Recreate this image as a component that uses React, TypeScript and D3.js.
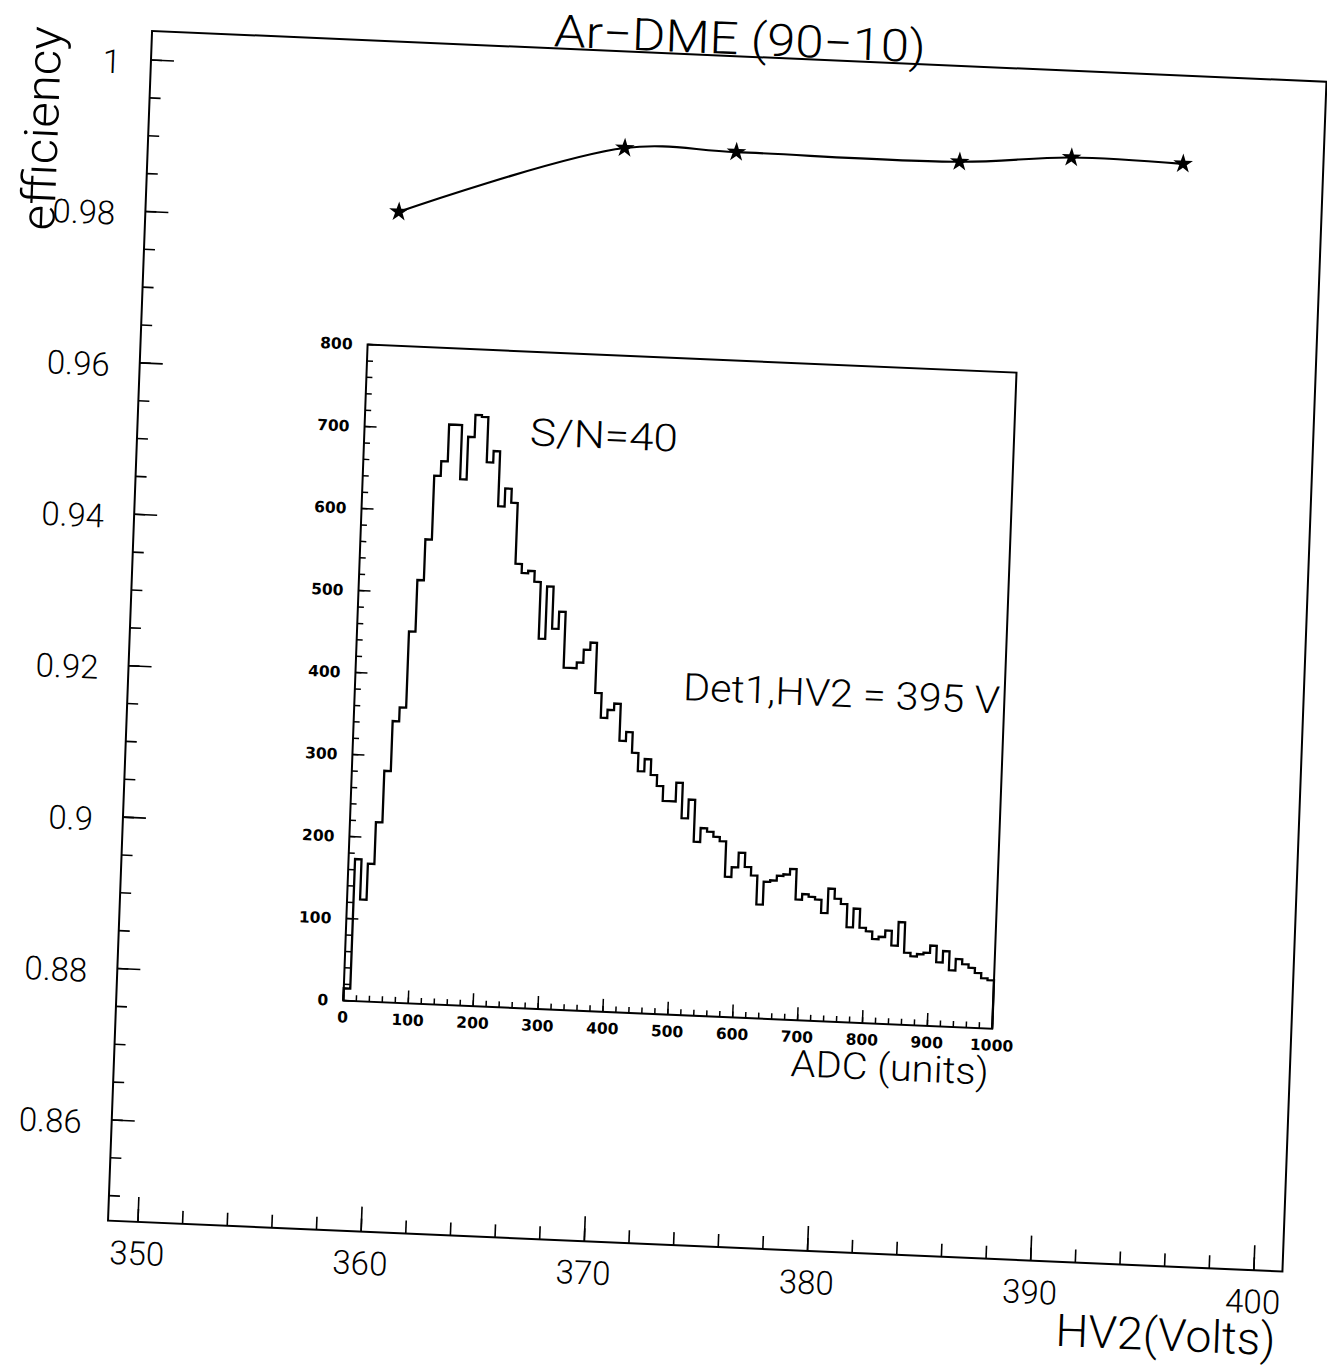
import React from 'react';
import * as d3 from 'd3';

// ---------- data ----------
const hvVolts = [360, 370, 375, 385, 390, 395];
const efficiency = [0.9814, 0.9911, 0.9912, 0.9912, 0.9924, 0.9922];
const hvDomain = [348.66, 401.28];
const effDomain = [0.8467, 1.00384];
const hvTicks = [350, 360, 370, 380, 390, 400];
const effTicks = [0.86, 0.88, 0.9, 0.92, 0.94, 0.96, 0.98, 1];
const effTickLabels = ['0.86', '0.88', '0.9', '0.92', '0.94', '0.96', '0.98', '1'];

const adcDomain = [0, 1000];
const countDomain = [0, 800];
const adcBinWidth = 10;
const adcCounts = [
  15, 173, 124, 168, 219, 282, 343, 360, 453, 516,
  566, 644, 662, 707, 707, 641, 693, 720, 718, 663,
  677, 610, 632, 615, 541, 530, 533, 520, 451, 515,
  464, 485, 417, 417, 424, 440, 449, 388, 358, 368,
  376, 331, 342, 317, 295, 310, 291, 278, 260, 260,
  283, 240, 263, 212, 229, 225, 219, 214, 171, 183,
  201, 184, 174, 139, 167, 169, 175, 177, 184, 147,
  154, 151, 148, 132, 162, 150, 144, 116, 139, 116,
  112, 103, 106, 114, 96, 125, 88, 84, 87, 89,
  98, 78, 92, 69, 83, 77, 73, 67, 61, 59,
];
const adcTicks = [0, 100, 200, 300, 400, 500, 600, 700, 800, 900, 1000];
const countTicks = [0, 100, 200, 300, 400, 500, 600, 700, 800];

const titleText = 'Ar\u2212DME (90\u221210)';
const yTitle = 'efficiency';
const xTitle = 'HV2(Volts)';
const insetXTitle = 'ADC (units)';
const noteSN = 'S/N=40';
const noteDet = 'Det1,HV2 = 395 V';

export default function App() {
  const W = 1327, H = 1370;
  const frame = { l: 129.5, r: 1305, t: 56, b: 1246.5 };
  const inset = { l: 356.5, r: 1006, t: 360, b: 1016.5 };

  // scan distortion: rotation with slight skew about the centre
  const cx = 718, cy = 651;
  const aA = (2.48 * Math.PI) / 180, aB = (2.12 * Math.PI) / 180;
  const ma = Math.cos(aA), mb = Math.sin(aA), mc = -Math.sin(aB), md = Math.cos(aB);
  const me = cx - (ma * cx + mc * cy), mf = cy - (mb * cx + md * cy);
  const tf = `matrix(${ma} ${mb} ${mc} ${md} ${me} ${mf})`;

  const x = d3.scaleLinear().domain(hvDomain).range([frame.l, frame.r]);
  const y = d3.scaleLinear().domain(effDomain).range([frame.b, frame.t]);
  const xi = d3.scaleLinear().domain(adcDomain).range([inset.l, inset.r]);
  const yi = d3.scaleLinear().domain(countDomain).range([inset.b, inset.t]);

  const pts: [number, number][] = hvVolts.map((v, i) => [x(v), y(efficiency[i])]);
  const curve = d3.line().curve(d3.curveCatmullRom.alpha(0.5))(pts) || '';
  const star = d3.symbol().type(d3.symbolStar).size(120)() || '';

  const hp = d3.path();
  hp.moveTo(xi(0), yi(0));
  adcCounts.forEach((c, i) => {
    hp.lineTo(xi(i * adcBinWidth), yi(c));
    hp.lineTo(xi((i + 1) * adcBinWidth), yi(c));
  });
  hp.lineTo(xi(adcCounts.length * adcBinWidth), yi(0));

  const effMinor = d3.range(170, 201).map((k) => k / 200).filter((v) => v >= effDomain[0]);
  const hvMinor = d3.range(175, 201).map((k) => k * 2);
  const countMinor = d3.range(0, 801, 20);
  const adcMinor = d3.range(0, 1001, 20);

  const mainFont = 'Roboto, "Liberation Sans", Arial, sans-serif';
  const smallFont = '"DejaVu Sans", Verdana, sans-serif';

  return (
    <svg width={W} height={H} viewBox={`0 0 ${W} ${H}`}
      style={{ position: 'absolute', left: 0, top: 0, background: '#fff', display: 'block' }}>
      <rect x={0} y={0} width={W} height={H} fill="#fff" />
      <g transform={tf}>
        {/* main frame */}
        <rect x={frame.l} y={frame.t} width={frame.r - frame.l} height={frame.b - frame.t}
          fill="none" stroke="#000" strokeWidth={2} />
        {/* y ticks */}
        {effMinor.map((v) => (
          <line key={'ym' + v} x1={frame.l} x2={frame.l + 11} y1={y(v)} y2={y(v)} stroke="#000" strokeWidth={1.6} />
        ))}
        {effTicks.map((v, i) => (
          <g key={'yt' + v}>
            <line x1={frame.l} x2={frame.l + 23} y1={y(v)} y2={y(v)} stroke="#000" strokeWidth={1.6} />
            <text x={frame.l - 30} y={y(v)} dy="0.44em" textAnchor="end" fontFamily={mainFont}
              fontWeight={300} fontSize={33} fill="#000">{effTickLabels[i]}</text>
          </g>
        ))}
        {/* x ticks */}
        {hvMinor.map((v) => (
          <line key={'xm' + v} x1={x(v)} x2={x(v)} y1={frame.b} y2={frame.b - 13} stroke="#000" strokeWidth={1.6} />
        ))}
        {hvTicks.map((v) => (
          <g key={'xt' + v}>
            <line x1={x(v)} x2={x(v)} y1={frame.b} y2={frame.b - 25} stroke="#000" strokeWidth={1.6} />
            <text x={x(v)} y={frame.b + 43} textAnchor="middle" fontFamily={mainFont}
              fontWeight={300} fontSize={33} fill="#000">{v}</text>
          </g>
        ))}
        {/* titles */}
        <text x={(frame.l + frame.r) / 2} y={frame.t - 2} textAnchor="middle" fontFamily={mainFont}
          fontWeight={300} fontSize={45} textLength={372} lengthAdjust="spacingAndGlyphs" fill="#000">{titleText}</text>
        <text transform={`translate(39,${frame.t}) rotate(-90)`} textAnchor="end" fontFamily={mainFont}
          fontWeight={300} fontSize={47} textLength={204} lengthAdjust="spacingAndGlyphs" fill="#000">{yTitle}</text>
        <text x={frame.r - 4.5} y={frame.b + 84} textAnchor="end" fontFamily={mainFont}
          fontWeight={300} fontSize={45} textLength={220} lengthAdjust="spacingAndGlyphs" fill="#000">{xTitle}</text>

        {/* efficiency curve */}
        <path d={curve} fill="none" stroke="#000" strokeWidth={2.2} />
        {pts.map((p, i) => (
          <path key={'s' + i} d={star} transform={`translate(${p[0]},${p[1]})`} fill="#000" />
        ))}

        {/* inset */}
        <rect x={inset.l} y={inset.t} width={inset.r - inset.l} height={inset.b - inset.t}
          fill="#fff" stroke="#000" strokeWidth={2} />
        {countMinor.map((v) => (
          <line key={'cm' + v} x1={inset.l} x2={inset.l + 6} y1={yi(v)} y2={yi(v)} stroke="#000" strokeWidth={1.5} />
        ))}
        {countTicks.map((v) => (
          <g key={'ct' + v}>
            <line x1={inset.l} x2={inset.l + 12} y1={yi(v)} y2={yi(v)} stroke="#000" strokeWidth={1.5} />
            <text x={inset.l - 15} y={yi(v)} dy="0.36em" textAnchor="end" fontFamily={smallFont}
              fontWeight="bold" fontSize={15.5} fill="#000">{v}</text>
          </g>
        ))}
        {adcMinor.map((v) => (
          <line key={'am' + v} x1={xi(v)} x2={xi(v)} y1={inset.b} y2={inset.b - 6} stroke="#000" strokeWidth={1.5} />
        ))}
        {adcTicks.map((v) => (
          <g key={'at' + v}>
            <line x1={xi(v)} x2={xi(v)} y1={inset.b} y2={inset.b - 13} stroke="#000" strokeWidth={1.5} />
            <text x={xi(v)} y={inset.b + 22} textAnchor="middle" fontFamily={smallFont}
              fontWeight="bold" fontSize={15.5} fill="#000">{v}</text>
          </g>
        ))}
        <path d={hp.toString()} fill="none" stroke="#000" strokeWidth={2.3} strokeLinejoin="miter" />
        <text x={inset.r - 2} y={inset.b + 56} textAnchor="end" fontFamily={mainFont}
          fontWeight={300} fontSize={37} textLength={198} lengthAdjust="spacingAndGlyphs" fill="#000">{insetXTitle}</text>
        <text x={xi(255)} y={yi(686)} fontFamily={mainFont} fontWeight={300} fontSize={38}
          textLength={148} lengthAdjust="spacingAndGlyphs" fill="#000">{noteSN}</text>
        <text x={xi(505)} y={yi(384)} fontFamily={mainFont} fontWeight={300} fontSize={38}
          textLength={317} lengthAdjust="spacingAndGlyphs" fill="#000">{noteDet}</text>
      </g>
    </svg>
  );
}
